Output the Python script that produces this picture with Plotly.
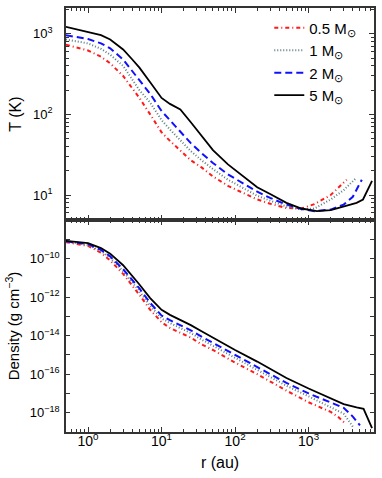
import plotly.graph_objects as go
from plotly.subplots import make_subplots

# masses (legend labels)
labels = ["0.5 M<sub>⊙</sub>", "1 M<sub>⊙</sub>", "2 M<sub>⊙</sub>", "5 M<sub>⊙</sub>"]

# temperature profiles T (K) vs r (au)
r_t_05 = [0.5, 1, 1.5, 2, 3, 4, 5, 7, 10, 13, 18, 25, 35, 50, 80, 130, 200, 300, 500, 800, 1200, 2000, 2800, 3300]
t_05 = [730, 620, 520, 430, 300, 210, 160, 100, 60, 47, 36, 27, 22, 17, 13, 10.5, 8.8, 7.8, 6.9, 6.8, 7.7, 10, 13.5, 15.5]

r_t_1 = [0.5, 1, 1.5, 2, 3, 4, 5, 7, 10, 13, 18, 25, 35, 50, 80, 130, 200, 300, 500, 800, 1200, 2000, 3000, 4300]
t_1 = [850, 760, 650, 550, 400, 270, 200, 140, 85, 65, 48, 35, 27, 21, 15.5, 12, 9.8, 8.5, 7.2, 6.6, 6.8, 8.8, 11.5, 15.8]

r_t_2 = [0.5, 1, 1.5, 2, 3, 4, 5, 7, 10, 13, 18, 25, 35, 50, 80, 130, 200, 300, 500, 800, 1200, 2000, 3000, 4000, 5300]
t_2 = [960, 860, 760, 660, 480, 340, 260, 180, 110, 85, 62, 44, 33, 25, 18, 14, 11, 9.2, 7.6, 6.7, 6.3, 6.6, 7.6, 9.5, 15.5]

r_t_5 = [0.5, 1, 1.5, 2, 3, 4, 5, 7, 10, 13, 18, 25, 35, 50, 80, 130, 200, 300, 500, 800, 1300, 2000, 3000, 4500, 5500, 7300]
t_5 = [1220, 1060, 960, 850, 640, 480, 380, 250, 160, 135, 115, 80, 55, 36, 24, 17, 12.5, 10.3, 8, 6.8, 6.3, 6.5, 7.2, 8, 8.8, 15]

# density profiles (g cm^-3) vs r (au)
r_d_05 = [0.5, 1, 1.5, 2, 3, 4, 5, 7, 10, 13, 18, 25, 35, 50, 100, 200, 500, 1000, 2000, 2500, 3150]
d_05 = [7.1e-10, 4.5e-10, 2.0e-10, 7.9e-11, 1.6e-11, 4.0e-12, 1.3e-12, 2.2e-13, 5.0e-14, 2.5e-14, 1.4e-14,
        7.9e-15, 3.5e-15, 1.8e-15, 4.0e-16, 1.0e-16, 1.4e-17, 3.5e-18, 1.1e-18, 6.3e-19, 2.8e-19]

r_d_1 = [0.5, 1, 1.5, 2, 3, 4, 5, 7, 10, 13, 18, 25, 35, 50, 100, 200, 500, 1000, 2000, 3000, 4000]
d_1 = [7.6e-10, 5.0e-10, 2.5e-10, 1.1e-10, 2.2e-11, 6.0e-12, 2.0e-12, 3.5e-13, 7.9e-14, 4.5e-14, 2.5e-14,
       1.35e-14, 6.3e-15, 3.0e-15, 7.1e-16, 1.7e-16, 2.5e-17, 7.1e-18, 2.0e-18, 8.9e-19, 1.9e-19]

r_d_2 = [0.5, 1, 1.5, 2, 3, 4, 5, 7, 10, 13, 18, 25, 35, 50, 100, 200, 500, 1000, 2000, 3000, 4000, 5000]
d_2 = [7.9e-10, 5.6e-10, 2.8e-10, 1.3e-10, 2.8e-11, 7.9e-12, 2.8e-12, 5.0e-13, 1.1e-13, 6.3e-14, 3.5e-14,
       1.9e-14, 8.9e-15, 4.2e-15, 1.0e-15, 2.4e-16, 3.5e-17, 1.0e-17, 3.2e-18, 1.8e-18, 6.3e-19, 2.2e-19]

r_d_5 = [0.5, 1, 1.5, 2, 3, 4, 5, 7, 10, 13, 18, 25, 35, 50, 100, 200, 500, 1000, 2000, 3000, 4500, 5600, 7300]
d_5 = [8.3e-10, 6.3e-10, 3.5e-10, 1.8e-10, 4.5e-11, 1.3e-11, 4.5e-12, 8.9e-13, 2.2e-13, 1.2e-13, 6.6e-14,
       3.5e-14, 1.7e-14, 7.9e-15, 1.8e-15, 4.5e-16, 6.3e-17, 1.8e-17, 5.6e-18, 2.8e-18, 1.9e-18, 1.6e-18, 1.6e-19]

x_ticks = [1, 10, 100, 1000]
x_ticktext = ["10<sup>0</sup>", "10<sup>1</sup>", "10<sup>2</sup>", "10<sup>3</sup>"]
t_ticks = [10, 100, 1000]
t_ticktext = ["10<sup>1</sup>", "10<sup>2</sup>", "10<sup>3</sup>"]
d_ticks = [1e-19, 1e-18, 1e-17, 1e-16, 1e-15, 1e-14, 1e-13, 1e-12, 1e-11, 1e-10, 1e-9, 1e-8]
d_ticktext = ["", "10<sup>−18</sup>", "", "10<sup>−16</sup>", "", "10<sup>−14</sup>", "",
              "10<sup>−12</sup>", "", "10<sup>−10</sup>", "", ""]

styles = [
    dict(color="#ff1a1a", dash="4px,3px,1px,3px", width=2),
    dict(color="#5f7f7f", dash="1px,2px", width=2),
    dict(color="#1010ff", dash="7px,4px", width=2),
    dict(color="#000000", dash="solid", width=1.8),
]

FONT = "Liberation Sans, Arial, sans-serif"
minor_x = [m * 10 ** k for k in range(-1, 4) for m in range(2, 10)]
minor_t = [m * 10 ** k for k in range(0, 4) for m in range(2, 10)]

fig = make_subplots(rows=2, cols=1, shared_xaxes=True, vertical_spacing=0)

t_data = [(r_t_05, t_05), (r_t_1, t_1), (r_t_2, t_2), (r_t_5, t_5)]
d_data = [(r_d_05, d_05), (r_d_1, d_1), (r_d_2, d_2), (r_d_5, d_5)]

for i in range(4):
    fig.add_trace(go.Scatter(x=t_data[i][0], y=t_data[i][1], mode="lines", name=labels[i],
                             line=styles[i], legendgroup=str(i)), row=1, col=1)
for i in range(4):
    fig.add_trace(go.Scatter(x=d_data[i][0], y=d_data[i][1], mode="lines", name=labels[i],
                             line=styles[i], showlegend=False, legendgroup=str(i)), row=2, col=1)

axis_common = dict(showline=True, linecolor="#333333", linewidth=1.5, mirror="ticks",
                   ticks="inside", tickcolor="#333333", showgrid=False, zeroline=False)

fig.update_xaxes(type="log", range=[-0.3, 3.89], tickvals=x_ticks, ticktext=x_ticktext,
                 ticklen=5, tickfont=dict(size=14, color="black", family=FONT), ticklabelstandoff=-5,
                 minor=dict(ticks="inside", ticklen=3, tickvals=minor_x, tickcolor="#333333"),
                 **axis_common)
fig.update_xaxes(title=dict(text="r (au)", font=dict(size=16, color="black", family=FONT), standoff=9),
                 row=2, col=1)

fig.update_yaxes(type="log", range=[0.69, 3.32], tickvals=t_ticks, ticktext=t_ticktext,
                 ticklen=5, tickfont=dict(size=13, color="black", family=FONT), ticklabelstandoff=9,
                 minor=dict(ticks="inside", ticklen=3, tickvals=minor_t, tickcolor="#333333"),
                 title=dict(text="T (K)", font=dict(size=16, color="black", family=FONT), standoff=8),
                 row=1, col=1, **axis_common)
fig.update_yaxes(type="log", range=[-19, -8], tickvals=d_ticks, ticktext=d_ticktext,
                 ticklen=4, tickfont=dict(size=13, color="black", family=FONT), ticklabelstandoff=2,
                 title=dict(text="Density (g cm<sup>−3</sup>)", font=dict(size=15, color="black", family=FONT),
                            standoff=6),
                 row=2, col=1, **axis_common)

fig.update_layout(
    width=382, height=478,
    margin=dict(l=66, r=8, t=6, b=46),
    plot_bgcolor="white", paper_bgcolor="white",
    font=dict(family=FONT, color="black"),
    showlegend=True,
    legend=dict(x=0.66, y=0.992, xanchor="left", yanchor="top", bgcolor="rgba(0,0,0,0)",
                font=dict(size=15, color="black", family=FONT), tracegroupgap=0, itemwidth=30),
)

fig.write_html("out.html", config={"displayModeBar": False},
               post_script="document.body.style.margin='0px';")
